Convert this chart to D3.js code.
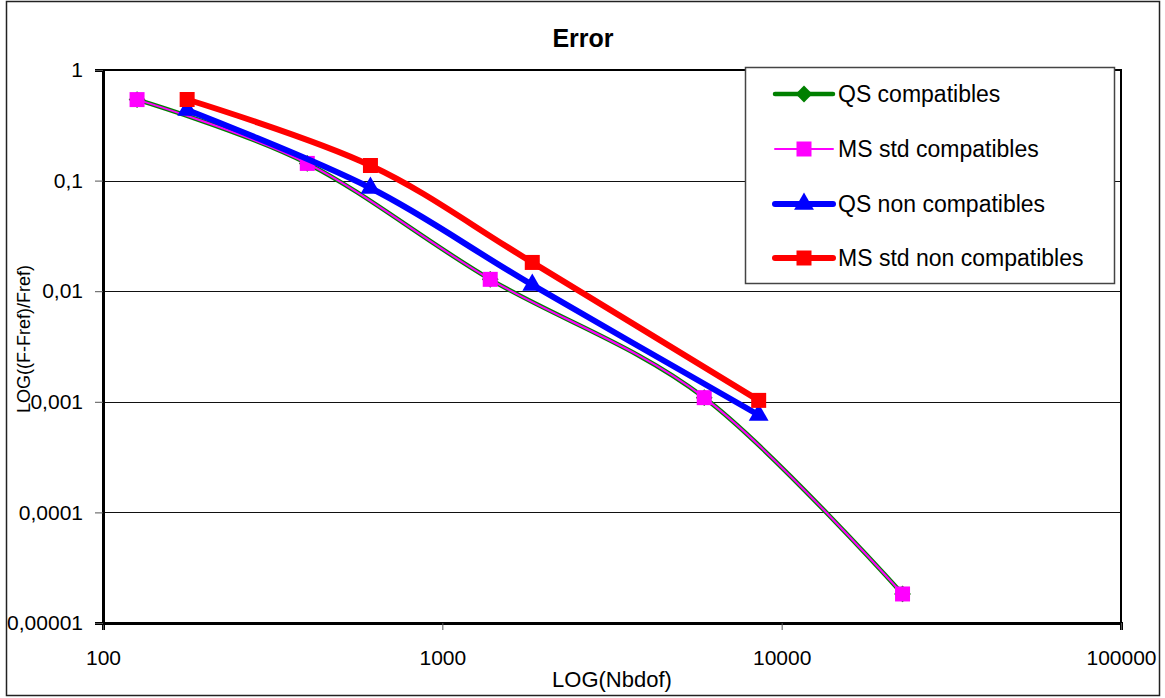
<!DOCTYPE html>
<html>
<head>
<meta charset="utf-8">
<script src="https://cdn.jsdelivr.net/npm/d3@7"></script>
<style>
  body { margin: 0; background: #fff; }
  text { font-family: "Liberation Sans", Arial, sans-serif; }
</style>
</head>
<body>
<div id="chart"></div>
<script>
// error convergence, log-log
const seriesNames = ["QS compatibles", "MS std compatibles", "QS non compatibles", "MS std non compatibles"];

const nbdofCompat = [126, 400, 1384, 5913, 22710];
const errQSCompat = [0.54, 0.143, 0.0128, 0.00109, 0.0000183];
const errMSCompat = [0.54, 0.143, 0.0128, 0.00109, 0.0000183];

const nbdofNonCompat = [177, 614, 1841, 8556];
const errQSNonCompat = [0.435, 0.0857, 0.0114, 0.00076];
const errMSNonCompat = [0.541, 0.137, 0.0182, 0.00103];

const xTicks = [100, 1000, 10000, 100000];
const xTickLabels = ["100", "1000", "10000", "100000"];
const yTicks = [1, 0.1, 0.01, 0.001, 0.0001, 0.00001];
const yTickLabels = ["1", "0,1", "0,01", "0,001", "0,0001", "0,00001"];

let width = 1165;
let height = 698;

const svg = d3.select("#chart")
    .append("svg")
    .attr("width", width)
    .attr("height", height);

// outer frame
svg.append("rect")
    .attr("x", 6.5).attr("y", 1.5)
    .attr("width", 1153).attr("height", 694)
    .attr("fill", "none")
    .attr("stroke", "#222")
    .attr("stroke-width", 1.5);

const x = d3.scaleLog().domain([100, 100000]).range([103, 1121]);
const y = d3.scaleLog().domain([0.00001, 1]).range([623, 70]);

// gridlines
svg.selectAll(".grid")
    .data(yTicks)
    .enter()
    .append("line")
    .attr("x1", x(100)).attr("x2", x(100000))
    .attr("y1", d => Math.round(y(d)) + 0.5)
    .attr("y2", d => Math.round(y(d)) + 0.5)
    .attr("stroke", "#111")
    .attr("stroke-width", 1);

// plot border
svg.append("rect")
    .attr("x", x(100)).attr("y", y(1))
    .attr("width", x(100000) - x(100))
    .attr("height", y(0.00001) - y(1))
    .attr("fill", "none")
    .attr("stroke", "#000")
    .attr("stroke-width", 2);

// axes
const xAxis = d3.axisBottom(x)
    .tickValues(xTicks)
    .tickFormat((d, i) => xTickLabels[i])
    .tickSize(7)
    .tickPadding(20);
const gx = svg.append("g")
    .attr("transform", `translate(0,${y(0.00001)})`)
    .call(xAxis);
gx.select(".domain").attr("stroke-width", 3);
gx.selectAll("text").attr("font-size", 21).attr("fill", "#000");
gx.selectAll(".tick line").attr("stroke", "#555");

const yAxis = d3.axisLeft(y)
    .tickValues(yTicks)
    .tickFormat((d, i) => yTickLabels[i])
    .tickSize(8)
    .tickPadding(12);
const gy = svg.append("g")
    .attr("transform", `translate(${x(100)},0)`)
    .call(yAxis);
gy.select(".domain").attr("stroke-width", 3);
gy.selectAll("text").attr("font-size", 21).attr("fill", "#000");
gy.selectAll(".tick line").attr("stroke", "#555");

// titles
svg.append("text")
    .attr("x", 583).attr("y", 47)
    .attr("text-anchor", "middle")
    .attr("font-size", 25)
    .attr("font-weight", "bold")
    .text("Error");

svg.append("text")
    .attr("x", 612).attr("y", 687)
    .attr("text-anchor", "middle")
    .attr("font-size", 22)
    .text("LOG(Nbdof)");

svg.append("text")
    .attr("transform", "translate(30,339) rotate(-90)")
    .attr("text-anchor", "middle")
    .attr("font-size", 18)
    .text("LOG((F-Fref)/Fref)");

// series
const series = [
    { name: seriesNames[0], xs: nbdofCompat, ys: errQSCompat, color: "#008000", width: 4.5, marker: "diamond" },
    { name: seriesNames[1], xs: nbdofCompat, ys: errMSCompat, color: "#FF00FF", width: 2, marker: "square" },
    { name: seriesNames[2], xs: nbdofNonCompat, ys: errQSNonCompat, color: "#0000FF", width: 6, marker: "triangle" },
    { name: seriesNames[3], xs: nbdofNonCompat, ys: errMSNonCompat, color: "#FF0000", width: 6, marker: "square" }
];

const symbolOf = {
    diamond: d3.symbol().type(d3.symbolDiamond2).size(180),
    square: d3.symbol().type(d3.symbolSquare).size(225),
    triangle: d3.symbol().type(d3.symbolTriangle).size(170)
};

const line = d3.line()
    .x(d => x(d[0]))
    .y(d => y(d[1]))
    .curve(d3.curveCardinal.tension(0));

series.forEach(function (s) {
    const pts = s.xs.map((v, i) => [v, s.ys[i]]);
    svg.append("path")
        .datum(pts)
        .attr("d", line)
        .attr("fill", "none")
        .attr("stroke", s.color)
        .attr("stroke-width", s.width)
        .attr("stroke-linejoin", "round");

    svg.selectAll(null)
        .data(pts)
        .enter()
        .append("path")
        .attr("d", symbolOf[s.marker])
        .attr("transform", d => `translate(${x(d[0])},${y(d[1])})`)
        .attr("fill", s.color);
});

// legend
svg.append("rect")
    .attr("x", 745.5).attr("y", 67.5)
    .attr("width", 369).attr("height", 216)
    .attr("fill", "#fff")
    .attr("stroke", "#444")
    .attr("stroke-width", 1.5);

const legendY = [94, 149, 204, 258];
series.forEach(function (s, i) {
    const ly = legendY[i];
    svg.append("line")
        .attr("x1", 775).attr("x2", 833)
        .attr("y1", ly).attr("y2", ly)
        .attr("stroke", s.color)
        .attr("stroke-width", s.width)
        .attr("stroke-linecap", "round");
    svg.append("path")
        .attr("d", symbolOf[s.marker])
        .attr("transform", `translate(804,${ly})`)
        .attr("fill", s.color);
    svg.append("text")
        .attr("x", 838).attr("y", ly + 8)
        .attr("font-size", 23)
        .text(s.name);
});
</script>
</body>
</html>
